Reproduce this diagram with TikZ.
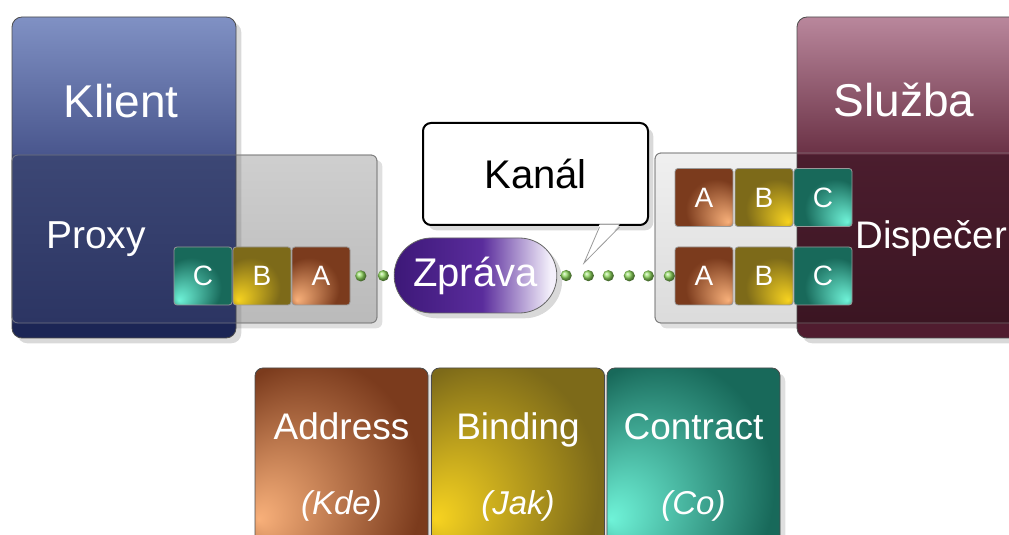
\documentclass[tikz,border=0pt]{standalone}
\usepackage{fontspec}
\setmainfont{Liberation Sans}
\usetikzlibrary{calc,shadows,shapes.misc}

\definecolor{klHT}{HTML}{8091C4}
\definecolor{klHB}{HTML}{4A578E}
\definecolor{klLT}{HTML}{3C4775}
\definecolor{klLB}{HTML}{2C3563}
\definecolor{klS}{HTML}{1B2555}
\definecolor{slHT}{HTML}{B9879C}
\definecolor{slHB}{HTML}{6B3246}
\definecolor{slLT}{HTML}{4B1D2E}
\definecolor{slLB}{HTML}{3B1522}
\definecolor{slS}{HTML}{501C2F}
\definecolor{aOut}{HTML}{7B3B1D}
\definecolor{aIn}{HTML}{F8B07A}
\definecolor{bOut}{HTML}{7D6A19}
\definecolor{bIn}{HTML}{F7D320}
\definecolor{cOut}{HTML}{18695A}
\definecolor{cIn}{HTML}{6FF3D8}
\definecolor{zpL}{HTML}{3D1878}
\definecolor{zpM}{HTML}{5A2C9C}
\definecolor{zpR}{HTML}{F4F0FB}
\definecolor{dotgreen}{HTML}{8ED85C}

% svisle stinovani boxu: hlavicka / spodni cast / pruh
\newcommand\defboxshade[6]{%
  \pgfdeclareverticalshading{#1}{100bp}{color(0bp)=(#6); color(27.2bp)=(#6);
    color(27.5bp)=(#5); color(53.5bp)=(#4); color(53.8bp)=(#3);
    color(75bp)=(#2); color(100bp)=(#2)}}
\defboxshade{klientfill}{klHT}{klHB}{klLT}{klLB}{klS}
\defboxshade{sluzbafill}{slHT}{slHB}{slLT}{slLB}{slS}

% zprava: fialova, k pravemu konci do bila
\pgfdeclarehorizontalshading{zpfill}{100bp}{color(0bp)=(zpL); color(25bp)=(zpL);
  color(52bp)=(zpM); color(73bp)=(zpR); color(100bp)=(zpR)}

% zare v rohu bloku
\newcommand\defglow[6]{%
  \pgfdeclareradialshading{#1}{\pgfpoint{#2}{#3}}{color(0bp)=(#5);
    color(#4)=(#6); color(50bp)=(#6)}}
\defglow{glowAL}{-21bp}{-21bp}{26bp}{aIn}{aOut}
\defglow{glowBL}{-21bp}{-21bp}{26bp}{bIn}{bOut}
\defglow{glowCL}{-21bp}{-21bp}{26bp}{cIn}{cOut}
\defglow{glowAR}{21bp}{-21bp}{26bp}{aIn}{aOut}
\defglow{glowBR}{21bp}{-21bp}{26bp}{bIn}{bOut}
\defglow{glowCR}{21bp}{-21bp}{26bp}{cIn}{cOut}
\defglow{glowAB}{-24bp}{-13bp}{32bp}{aIn}{aOut}
\defglow{glowBB}{-24bp}{-13bp}{32bp}{bIn}{bOut}
\defglow{glowCB}{-24bp}{-13bp}{32bp}{cIn}{cOut}

\tikzset{
  panel/.style={draw=black!60, rounded corners=3pt, drop shadow={opacity=0.25}},
  bigbox/.style={draw=black!70, rounded corners=5pt, drop shadow={opacity=0.3}},
  blk/.style={shade, draw=black!40, rounded corners=1.5pt, minimum width=29pt,
    minimum height=29pt, inner sep=0pt, text=white, font=\fontsize{14}{14}\selectfont},
  bigtext/.style={text=white, font=\fontsize{23}{23}\selectfont},
  midtext/.style={text=white, font=\fontsize{20}{20}\selectfont},
  abcbox/.style={shade, draw=black!70, rounded corners=4pt, minimum width=86.5pt,
    minimum height=99.5pt, inner sep=0pt, text=white, align=center,
    font=\fontsize{18.5}{37.5}\selectfont, drop shadow={opacity=0.25}},
  spoj/.style={ball color=dotgreen}
}

\begin{document}
\begin{tikzpicture}[x=0.5pt,y=-0.5pt]
  \useasboundingbox (0,0) rectangle (1009,535);
  \clip (0,0) rectangle (1009,535);

  % Klient a proxy
  \shade[panel, top color=black!19, bottom color=black!27] (12,155) rectangle (377,323);
  \shade[bigbox, shading=klientfill] (12,17) rectangle (236,338);
  \draw[black!45, rounded corners=3pt, opacity=0.7] (12,155) rectangle (377,323);

  % Sluzba a dispecer
  \shade[panel, top color=black!6, bottom color=black!14] (655,153) rectangle (1040,323);
  \shade[bigbox, shading=sluzbafill] (797,17) rectangle (1040,338);
  \draw[black!45, rounded corners=3pt, opacity=0.7] (655,153) rectangle (1040,323);

  \node[bigtext, anchor=base] (klient) at (121,118) {Klient};
  \node[midtext, anchor=base, font=\fontsize{19.5}{19.5}\selectfont] (proxy) at (96,249) {Proxy};
  \node[bigtext, anchor=base] (sluzba) at (904,117) {Služba};
  \node[midtext, anchor=base west, inner xsep=0pt, font=\fontsize{19.2}{19.2}\selectfont]
    (dispecer) at (855,249) {Dispečer};

  % bloky A B C
  \foreach \l/\x in {C/203,B/262,A/321}
    \node[blk, shading=glow\l L] (p\l) at (\x,276) {\l};
  \foreach \l/\x in {A/704,B/764,C/823} {
    \node[blk, shading=glow\l R] (d1\l) at (\x,197.5) {\l};
    \node[blk, shading=glow\l R] (d2\l) at (\x,276) {\l};
  }

  % kanal
  \node[draw=black, line width=1pt, fill=white, rounded corners=4pt,
    minimum width=112.5pt, minimum height=51pt, font=\fontsize{20}{20}\selectfont,
    drop shadow={opacity=0.3}] (kanal) at (535.5,174) {Kanál};
  \coordinate (hrot) at (584,263);
  \fill[white] ($(kanal.south)+(64,-1.5)$) -- (hrot) -- ($(kanal.south)+(84,-1.5)$) -- cycle;
  \draw[black!40] ($(kanal.south)+(64,1)$) -- (hrot) -- ($(kanal.south)+(84,1)$);

  % zprava
  \node[rounded rectangle, draw=black!60, shade, shading=zpfill, minimum width=88pt,
    minimum height=37.5pt, midtext, drop shadow={opacity=0.3}] (zprava) at (475.5,275.5) {Zpráva};

  \foreach \t in {0.24,0.76}
    \shade[spoj] ($(pA.east)!\t!(zprava.west)$) circle (2.8pt);
  \foreach \t in {0.076,0.265,0.435,0.614,0.776,0.955}
    \shade[spoj] ($(zprava.east)!\t!(d2A.west)$) circle (2.8pt);

  % Address, Binding, Contract
  \foreach \n/\x/\g/\a/\b in {address/341.5/A/Address/Kde,
      binding/518/B/Binding/Jak, contract/693.5/C/Contract/Co}
    \node[abcbox, shading=glow\g B] (\n) at (\x,467.5)
      {\a\\{\itshape\fontsize{16.5}{37.5}\selectfont (\b)}};
\end{tikzpicture}
\end{document}
